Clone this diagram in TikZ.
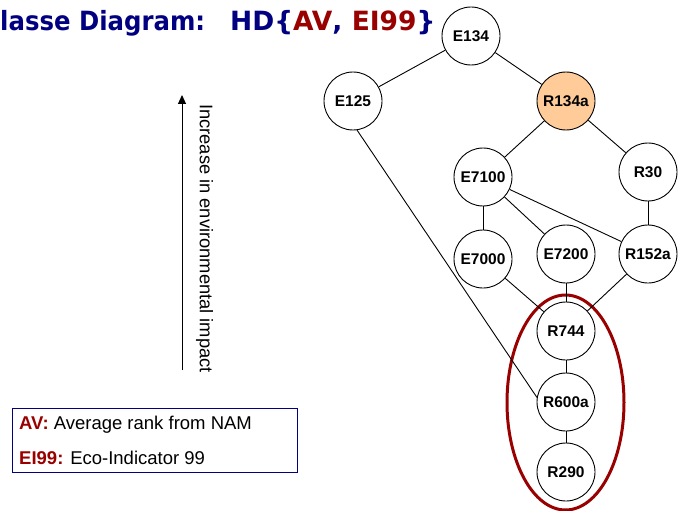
\documentclass[tikz,border=0pt]{standalone}
\usepackage{fontspec}
\setmainfont{Liberation Sans}
\newfontfamily\titlefont{DejaVu Sans}
\usetikzlibrary{arrows.meta}
\definecolor{navy}{HTML}{000080}
\definecolor{dred}{HTML}{990000}
\definecolor{peach}{HTML}{FFCC99}
\pgfdeclarelayer{background}
\pgfsetlayers{background,main}
\tikzset{
  cnode/.style={circle,draw=black,line width=0.9,fill=white,minimum size=58,inner sep=0,font=\fontsize{15.5}{17}\selectfont\bfseries},
  edge/.style={draw=black,line width=0.9},
  ttl/.style={anchor=base west,inner sep=0,font=\titlefont\fontsize{26.5}{30}\selectfont\bfseries,text=navy},
  legtext/.style={anchor=base west,inner sep=0,font=\fontsize{18.5}{21}\selectfont},
}
\begin{document}
\begin{tikzpicture}[x=1pt,y=-1pt]
\useasboundingbox (0,0) rectangle (686,511);
% title
\node[ttl] (title1) at (0,31) {\scalebox{0.92}[1]{lasse Diagram:}};
\node[ttl] (title2) at (230,31) {HD\{\textcolor{dred}{AV}, \textcolor{dred}{EI99}\}};
% nodes
\node[cnode] (E134) at (471,36) {E134};
\node[cnode] (E125) at (353,101) {E125};
\node[cnode,fill=peach] (R134a) at (566,101) {R134a};
\node[cnode] (E7100) at (483,177) {E7100};
\node[cnode] (R30) at (648,172) {R30};
\node[cnode] (E7000) at (483,259) {E7000};
\node[cnode] (E7200) at (566,254) {E7200};
\node[cnode] (R152a) at (648,254) {R152a};
\node[cnode] (R744) at (566,331) {R744};
\node[cnode] (R600a) at (566,402) {R600a};
\node[cnode] (R290) at (566,472) {R290};
\begin{pgfonlayer}{background}
% ellipse
\draw[dred,line width=3] (565.5,402.5) ellipse [x radius=58.5, y radius=107.5];
% edges
\draw[edge] (E134) -- (E125);
\draw[edge] (E134) -- (R134a);
\draw[edge] (R134a) -- (E7100);
\draw[edge] (R134a) -- (R30);
\draw[edge] (E7100) -- (E7000);
\draw[edge] (E7100) -- (E7200);
\draw[edge] (E7100) -- (R152a);
\draw[edge] (R30) -- (R152a);
\draw[edge] (E7000) -- (R744);
\draw[edge] (E7200) -- (R744);
\draw[edge] (R152a) -- (R744);
\draw[edge] (E125.-82) -- (R600a.171);
\draw[edge] (R744) -- (R600a);
\draw[edge] (R600a) -- (R290);
\end{pgfonlayer}
% arrow
\coordinate (abot) at (182,370);
\coordinate (atop) at (182,95);
\draw[line width=1,-{Triangle[length=9,width=8]}] (abot) -- (atop);
\node[rotate=-90,anchor=center,inner sep=0,font=\fontsize{18.3}{20}\selectfont] (axislbl) at (204.5,238.5) {Increase in environmental impact};
% legend
\draw[navy,line width=1] (12,408) rectangle (297,472);
\node[legtext] (leg1) at (19,429) {\textcolor{dred}{\bfseries AV:} Average rank from NAM};
\node[legtext] (leg2) at (19,464) {\textcolor{dred}{\bfseries EI99:} Eco-Indicator 99};
\end{tikzpicture}
\end{document}
